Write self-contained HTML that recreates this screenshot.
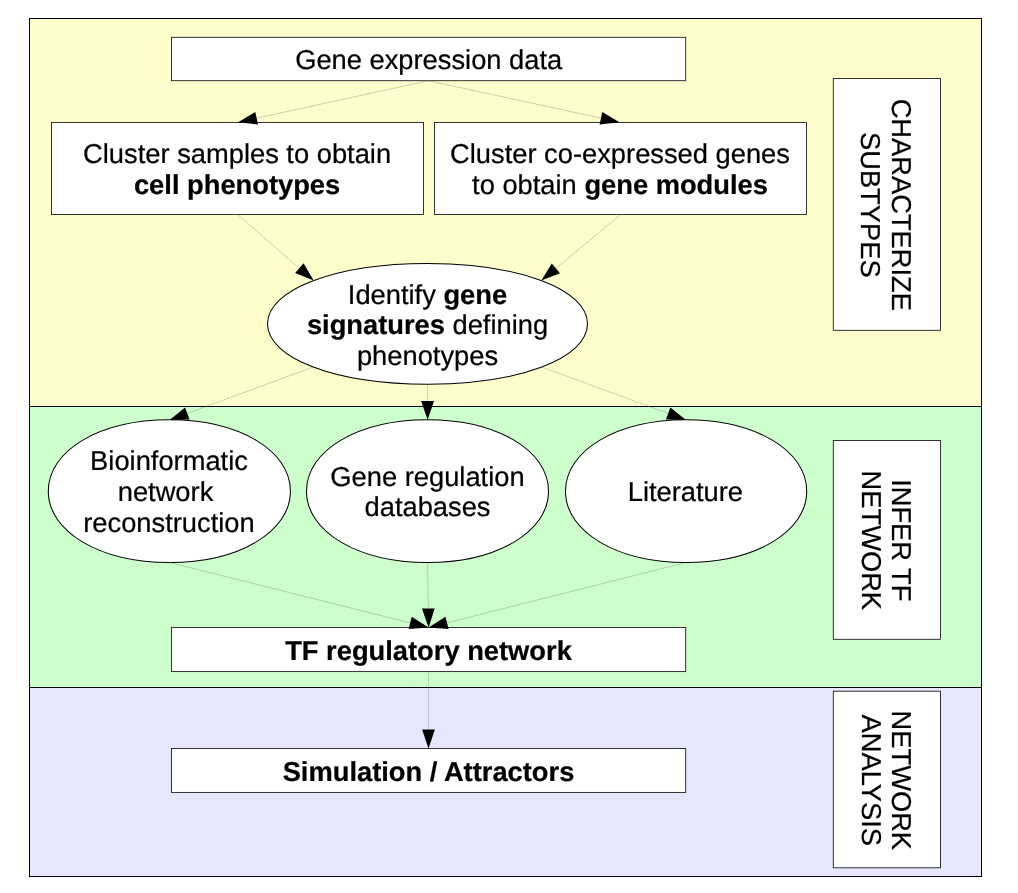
<!DOCTYPE html>
<html><head><meta charset="utf-8"><title>Workflow</title>
<style>
html,body{margin:0;padding:0;background:#fff;}
svg{display:block}
svg{will-change:transform}
text{text-rendering:geometricPrecision;font-family:"Liberation Sans",sans-serif;font-size:27.3px;fill:#000;stroke:#000;stroke-width:0.22px;}
</style></head><body>
<svg width="1018" height="893" viewBox="0 0 1018 893">
<rect x="0" y="0" width="1018" height="893" fill="#fff"/>
<rect x="29.5" y="18.5" width="952" height="388" fill="#fffdcc" stroke="#000" stroke-width="1"/>
<rect x="29.5" y="406.5" width="952" height="281" fill="#ccffcc" stroke="#000" stroke-width="1"/>
<rect x="29.5" y="687.5" width="952" height="189" fill="#e6e6ff" stroke="#000" stroke-width="1"/>
<rect x="171.5" y="37.3" width="514.2" height="43.400000000000006" fill="#fff" stroke="#111" stroke-width="0.85"/>
<rect x="51.5" y="122.5" width="372.0" height="92.0" fill="#fff" stroke="#111" stroke-width="0.85"/>
<rect x="434.5" y="122.5" width="372.0" height="92.0" fill="#fff" stroke="#111" stroke-width="0.85"/>
<path d="M587.50,323.85 C587.50,358.37 519.02,384.20 427.50,384.20 C335.98,384.20 267.50,358.37 267.50,323.85 C267.50,289.33 335.98,263.50 427.50,263.50 C519.02,263.50 587.50,289.33 587.50,323.85Z" fill="#fff" stroke="#000" stroke-width="1.05"/>
<path d="M290.40,491.15 C290.40,531.96 238.59,562.50 169.35,562.50 C100.11,562.50 48.30,531.96 48.30,491.15 C48.30,450.34 100.11,419.80 169.35,419.80 C238.59,419.80 290.40,450.34 290.40,491.15Z" fill="#fff" stroke="#000" stroke-width="1.05"/>
<path d="M548.50,491.15 C548.50,531.96 496.71,562.50 427.50,562.50 C358.29,562.50 306.50,531.96 306.50,491.15 C306.50,450.34 358.29,419.80 427.50,419.80 C496.71,419.80 548.50,450.34 548.50,491.15Z" fill="#fff" stroke="#000" stroke-width="1.05"/>
<path d="M806.70,491.15 C806.70,531.96 755.08,562.50 686.10,562.50 C617.12,562.50 565.50,531.96 565.50,491.15 C565.50,450.34 617.12,419.80 686.10,419.80 C755.08,419.80 806.70,450.34 806.70,491.15Z" fill="#fff" stroke="#000" stroke-width="1.05"/>
<rect x="171.5" y="627.5" width="514.2" height="44.10000000000002" fill="#fff" stroke="#111" stroke-width="0.85"/>
<rect x="171.5" y="748.5" width="514.2" height="43.89999999999998" fill="#fff" stroke="#111" stroke-width="0.85"/>
<rect x="833.3" y="78.5" width="107.20000000000005" height="251.8" fill="#fff" stroke="#111" stroke-width="0.85"/>
<rect x="833.3" y="440.5" width="107.20000000000005" height="198.79999999999995" fill="#fff" stroke="#111" stroke-width="0.85"/>
<rect x="833.3" y="691.2" width="107.20000000000005" height="176.5999999999999" fill="#fff" stroke="#111" stroke-width="0.85"/>
<line x1="428.5" y1="80.7" x2="256.66" y2="118.15" stroke="#777" stroke-width="0.35"/><polygon points="238.10,122.20 255.30,111.90 258.03,124.41" fill="#000"/>
<line x1="428.5" y1="80.7" x2="600.93" y2="118.17" stroke="#777" stroke-width="0.35"/><polygon points="619.50,122.20 599.57,124.42 602.29,111.91" fill="#000"/>
<line x1="237.5" y1="214.5" x2="299.35" y2="268.15" stroke="#777" stroke-width="0.35"/><polygon points="313.70,280.60 295.15,272.98 303.54,263.32" fill="#000"/>
<line x1="620.5" y1="214.5" x2="555.89" y2="268.43" stroke="#777" stroke-width="0.35"/><polygon points="541.30,280.60 551.79,263.51 559.99,273.34" fill="#000"/>
<line x1="313.2" y1="367.0" x2="187.33" y2="413.43" stroke="#777" stroke-width="0.35"/><polygon points="169.50,420.00 185.11,407.42 189.54,419.43" fill="#000"/>
<line x1="427.6" y1="384.2" x2="427.60" y2="401.00" stroke="#777" stroke-width="0.35"/><polygon points="427.60,420.00 421.20,401.00 434.00,401.00" fill="#000"/>
<line x1="541.8" y1="367.0" x2="668.17" y2="413.45" stroke="#777" stroke-width="0.35"/><polygon points="686.00,420.00 665.96,419.45 670.37,407.44" fill="#000"/>
<line x1="169.5" y1="562.5" x2="410.17" y2="622.88" stroke="#777" stroke-width="0.35"/><polygon points="428.60,627.50 408.61,629.08 411.73,616.67" fill="#000"/>
<line x1="427.6" y1="562.5" x2="428.31" y2="608.50" stroke="#777" stroke-width="0.35"/><polygon points="428.60,627.50 421.91,608.60 434.71,608.40" fill="#000"/>
<line x1="686" y1="562.5" x2="447.02" y2="622.85" stroke="#777" stroke-width="0.35"/><polygon points="428.60,627.50 445.45,616.64 448.59,629.05" fill="#000"/>
<line x1="428.5" y1="671.5" x2="428.50" y2="729.50" stroke="#777" stroke-width="0.35"/><polygon points="428.50,748.50 422.10,729.50 434.90,729.50" fill="#000"/>
<text x="428.7" y="68.8" text-anchor="middle" >Gene expression data</text>
<text x="237.1" y="163.2" text-anchor="middle" >Cluster samples to obtain</text>
<text x="237.1" y="194.2" text-anchor="middle" ><tspan font-weight="bold">cell phenotypes</tspan></text>
<text x="620" y="163.2" text-anchor="middle" >Cluster co-expressed genes</text>
<text x="620" y="194.2" text-anchor="middle" >to obtain <tspan font-weight="bold">gene modules</tspan></text>
<text x="427.5" y="304.0" text-anchor="middle" >Identify <tspan font-weight="bold">gene</tspan></text>
<text x="427.5" y="334.3" text-anchor="middle" ><tspan font-weight="bold">signatures</tspan> defining</text>
<text x="427.5" y="365.3" text-anchor="middle" >phenotypes</text>
<text x="169" y="470.2" text-anchor="middle" >Bioinformatic</text>
<text x="165.5" y="500.7" text-anchor="middle" >network</text>
<text x="169" y="531.7" text-anchor="middle" >reconstruction</text>
<text x="427.5" y="485.9" text-anchor="middle" >Gene regulation</text>
<text x="427.5" y="515.7" text-anchor="middle" >databases</text>
<text x="685.4" y="500.7" text-anchor="middle" >Literature</text>
<text x="428.5" y="660.2" text-anchor="middle" ><tspan font-weight="bold">TF regulatory network</tspan></text>
<text x="428.5" y="781.2" text-anchor="middle" ><tspan font-weight="bold">Simulation / Attractors</tspan></text>
<g transform="translate(886.5,204.8) rotate(90)"><text x="0" y="-5.3" text-anchor="middle">CHARACTERIZE</text><text x="0" y="25.2" text-anchor="middle">SUBTYPES</text></g>
<g transform="translate(886.5,540.3) rotate(90)"><text x="0" y="-5.5" text-anchor="middle">INFER TF</text><text x="0" y="24.5" text-anchor="middle">NETWORK</text></g>
<g transform="translate(886.5,780.3) rotate(90)"><text x="0" y="-5.5" text-anchor="middle">NETWORK</text><text x="0" y="24.5" text-anchor="middle">ANALYSIS</text></g>
</svg>
</body></html>
